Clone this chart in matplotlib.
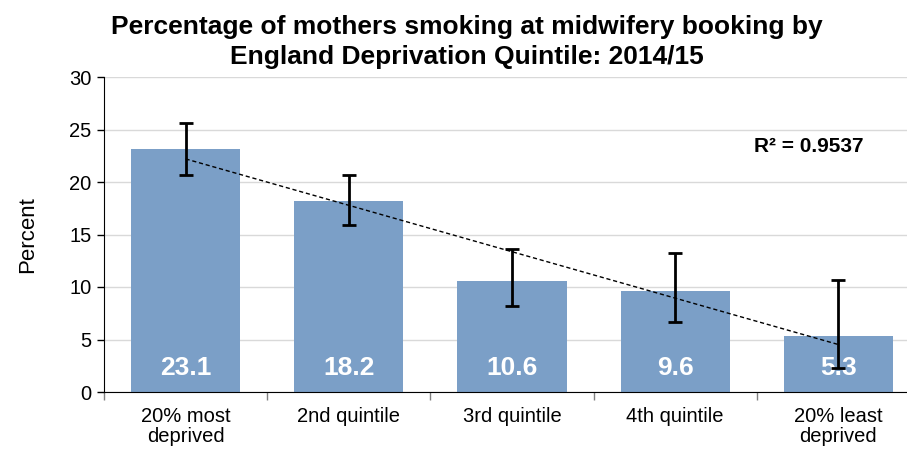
import numpy as np
import matplotlib
matplotlib.use("agg")
from matplotlib import pyplot as plt

plt.rcParams["font.family"] = ["Liberation Sans", "DejaVu Sans"]

# data
categories = ["20% most\ndeprived", "2nd quintile", "3rd quintile", "4th quintile", "20% least\ndeprived"]
values = [23.1, 18.2, 10.6, 9.6, 5.3]
ci_upper = [25.6, 20.7, 13.6, 13.2, 10.7]
ci_lower = [20.7, 15.9, 8.2, 6.7, 2.3]
r_squared = 0.9537  # as printed on the chart (from unrounded source data)

x = np.arange(len(categories))
err = [np.array(values) - np.array(ci_lower), np.array(ci_upper) - np.array(values)]

fig = plt.figure(figsize=(9.07, 4.5), dpi=100)
# axes runs off the right edge like the original screenshot
ax = fig.add_axes([104 / 907, 58 / 450, 816 / 907, 315 / 450])

ax.bar(x, values, width=0.67, color="#7B9FC7", zorder=2)
ax.errorbar(x, values, yerr=err, fmt="none", ecolor="black", elinewidth=2,
            capsize=5, capthick=2, zorder=4)

# linear trend line
coef = np.polyfit(x, values, 1)
fit = np.polyval(coef, x)
ax.plot(x, fit, color="black", linestyle=(0, (3, 2)), linewidth=1, zorder=3)
ax.text(3.82, 23.4, f"R² = {r_squared:.4f}", fontsize=15, fontweight="bold", ha="center", va="center")

for xi, v in zip(x, values):
    ax.text(xi, 2.3, f"{v:.1f}", color="white", fontsize=19, fontweight="bold",
            ha="center", va="center", zorder=3)

ax.set_xlim(-0.5, 4.5)
ax.set_ylim(0, 30)
ax.set_yticks(range(0, 31, 5))
ax.tick_params(axis="y", labelsize=14.5, direction="out", length=5, width=1, pad=4)
ax.set_xticks(x)
ax.set_xticklabels(categories, fontsize=14.5, linespacing=1.05)
ax.tick_params(axis="x", length=0, pad=11)
ax.set_xticks(np.arange(-0.5, 5, 1), minor=True)
ax.tick_params(axis="x", which="minor", length=6, color="#808080", width=1)
ax.grid(axis="y", color="#D9D9D9", linewidth=1, zorder=0)
ax.set_axisbelow(True)
for s in ["top", "right"]:
    ax.spines[s].set_visible(False)
ax.spines["left"].set_color("black")
ax.spines["bottom"].set_color("black")
ax.set_ylabel("Percent", fontsize=16, labelpad=22)

fig.text(0.515, 0.907, "Percentage of mothers smoking at midwifery booking by\nEngland Deprivation Quintile: 2014/15",
         fontsize=19, fontweight="bold", ha="center", va="center", linespacing=1.3)

plt.savefig("out.png", dpi=100)
